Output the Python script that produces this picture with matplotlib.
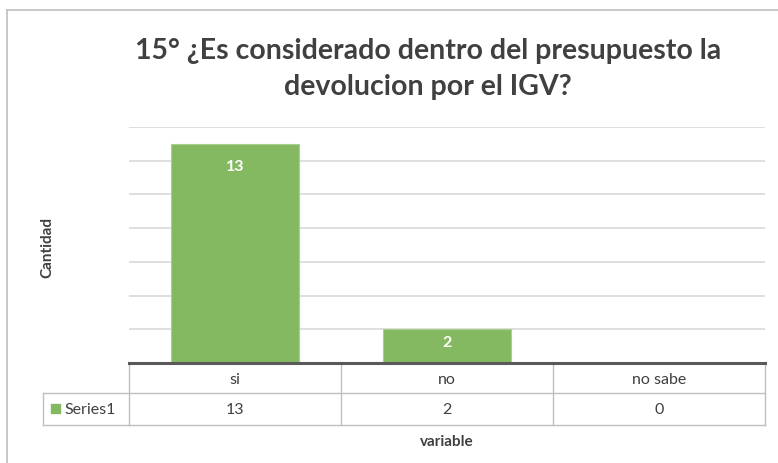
import matplotlib.pyplot as plt
from matplotlib import transforms
from matplotlib.patches import Rectangle

categories = ['si', 'no', 'no sabe']
values = [13, 2, 0]
series_name = 'Series1'
title = '15° ¿Es considerado dentro del presupuesto la\ndevolucion por el IGV?'

W, H = 778, 464
bar_color = '#84B962'
grid_color = '#D9D9D9'
table_color = '#BFBFBF'
text_color = '#404040'

plt.rcParams['font.family'] = ['Lato', 'DejaVu Sans']

fig = plt.figure(figsize=(W / 100, H / 100), dpi=100)

def fx(px):
    return px / W

def fy(py):
    return 1 - py / H

# plot area
left, right, top, bottom = 129, 765, 128, 364
ax = fig.add_axes([fx(left), fy(bottom), fx(right) - fx(left), fy(top) - fy(bottom)])

x = list(range(len(categories)))
bars = ax.bar(x, values, width=0.6, color=bar_color, edgecolor='#A9D18E', linewidth=0.8, zorder=3)
ax.set_xlim(-0.5, len(categories) - 0.5)
ax.set_ylim(0, 14)
ax.set_yticks(range(0, 15, 2))
ax.yaxis.grid(True, color=grid_color, linewidth=1.2, zorder=0)
ax.tick_params(left=False, bottom=False, labelleft=False, labelbottom=False)
for s in ['top', 'right', 'left']:
    ax.spines[s].set_visible(False)
ax.spines['bottom'].set_color('#595959')
ax.spines['bottom'].set_linewidth(2.2)
ax.spines['bottom'].set_zorder(4)

# data labels (inside end)
for b, v in zip(bars, values):
    if v > 0:
        ax.text(b.get_x() + b.get_width() / 2, v - min(1.3, 0.385 * v), str(v),
                ha='center', va='center', color='white', fontsize=11.5,
                fontweight='bold', zorder=5)

# data table below the axis
tr = transforms.blended_transform_factory(ax.transData, fig.transFigure)
y_head_top, y_head_bot, y_row_bot = fy(366), fy(394), fy(426)
xl, xr = -0.5, len(categories) - 0.5
lw = 1.0
for xe in [i - 0.5 for i in range(len(categories) + 1)]:
    ax.plot([xe, xe], [y_head_top, y_row_bot], transform=tr, color=table_color, lw=lw, clip_on=False)
ax.plot([xl, xr], [y_head_bot, y_head_bot], transform=tr, color=table_color, lw=lw, clip_on=False)
ax.plot([xl, xr], [y_row_bot, y_row_bot], transform=tr, color=table_color, lw=lw, clip_on=False)
for i, (c, v) in enumerate(zip(categories, values)):
    ax.text(i, (y_head_top + y_head_bot) / 2, c, transform=tr, ha='center', va='center',
            fontsize=11.5, color=text_color)
    ax.text(i, (y_head_bot + y_row_bot) / 2, str(v), transform=tr, ha='center', va='center',
            fontsize=11.5, color=text_color)

# legend key cell
fig.add_artist(plt.Line2D([fx(43), fx(left)], [y_head_bot, y_head_bot], color=table_color, lw=lw))
fig.add_artist(plt.Line2D([fx(43), fx(left)], [y_row_bot, y_row_bot], color=table_color, lw=lw))
fig.add_artist(plt.Line2D([fx(43), fx(43)], [y_head_bot, y_row_bot], color=table_color, lw=lw))
fig.add_artist(Rectangle((fx(51), fy(414)), fx(9), fy(0) - fy(9), color=bar_color))
fig.text(fx(64), (y_head_bot + y_row_bot) / 2, series_name, ha='left', va='center',
         fontsize=11.5, color=text_color)

# title and axis titles
fig.text(fx(428), fy(69), title, ha='center', va='center', fontsize=20.5, fontweight='bold',
         color=text_color, linespacing=1.5)
fig.text(fx(47), fy(247), 'Cantidad', rotation=90, ha='center', va='center',
         fontsize=11, fontweight='bold', color=text_color)
fig.text(fx(447), fy(442), 'variable', ha='center', va='center',
         fontsize=11, fontweight='bold', color=text_color)

# chart frame (only top and left edges are visible)
fig.add_artist(plt.Line2D([fx(7), 1.0], [fy(11), fy(11)], color='#BFBFBF', lw=1.2))
fig.add_artist(plt.Line2D([fx(7), fx(7)], [fy(11), 0.0], color='#BFBFBF', lw=1.2))

fig.savefig('out.png', dpi=100)
